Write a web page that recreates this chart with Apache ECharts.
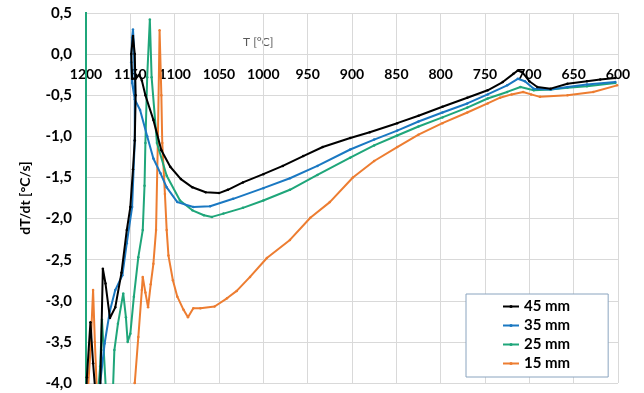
<!DOCTYPE html>
<html>
<head>
<meta charset="utf-8">
<script src="https://cdn.jsdelivr.net/npm/echarts@6/dist/echarts.min.js"></script>
<style>
  html, body { margin: 0; padding: 0; background: #fff; }
  #chart { width: 644px; height: 393px; }
</style>
</head>
<body>
<div id="chart"></div>
<script>
// temperatures (x) and cooling rate dT/dt (y)
var t45 = [1200, 1199, 1195, 1192, 1188, 1184, 1181, 1178, 1173, 1167, 1160, 1154, 1150, 1147, 1145, 1144, 1145, 1147, 1149, 1148, 1144, 1140, 1137, 1133, 1124, 1115, 1105, 1093, 1080, 1065, 1050, 1040, 1023, 1000, 978, 955, 933, 902, 880, 849, 825, 798, 770, 747, 730, 718, 713, 708, 700, 691, 676, 657, 635, 620, 603]
var v45 = [-4.3, -3.93, -3.26, -3.76, -4.3, -4.1, -2.61, -2.79, -3.21, -3.08, -2.66, -2.14, -1.86, -1.4, -1.05, -0.5, 0.0, 0.22, 0.0, -0.3, -0.3, -0.25, -0.32, -0.5, -0.8, -1.17, -1.37, -1.52, -1.62, -1.68, -1.69, -1.65, -1.56, -1.46, -1.36, -1.24, -1.13, -1.02, -0.95, -0.84, -0.75, -0.64, -0.53, -0.44, -0.34, -0.24, -0.2, -0.22, -0.33, -0.4, -0.42, -0.36, -0.33, -0.31, -0.29]

var t35 = [1188, 1184, 1179, 1173, 1167, 1159, 1154, 1148, 1145, 1145, 1146, 1147, 1148, 1149, 1148, 1145, 1139, 1131, 1124, 1116, 1109, 1097, 1079, 1060, 1034, 1000, 970, 939, 902, 875, 849, 825, 798, 770, 747, 725, 713, 705, 695, 676, 657, 635, 603]
var v35 = [-4.3, -4.0, -3.52, -3.12, -2.87, -2.69, -2.3, -1.86, -1.05, -0.4, 0.1, 0.3, 0.2, -0.1, -0.35, -0.55, -0.68, -1.0, -1.27, -1.45, -1.62, -1.8, -1.86, -1.85, -1.76, -1.63, -1.51, -1.36, -1.16, -1.04, -0.93, -0.82, -0.71, -0.6, -0.49, -0.38, -0.3, -0.33, -0.42, -0.43, -0.4, -0.37, -0.34]

var t25 = [1200, 1200, 1188, 1184, 1182, 1180, 1177, 1170, 1168, 1164, 1158, 1155, 1153, 1150, 1146, 1141, 1136, 1134, 1133, 1131, 1128, 1126, 1120, 1109, 1094, 1080, 1067, 1058, 1045, 1023, 1000, 970, 939, 902, 875, 849, 825, 798, 770, 747, 725, 710, 695, 676, 657, 635, 603]
var v25 = [0.6, -4.3, -4.3, -3.8, -3.23, -3.6, -4.2, -4.2, -3.6, -3.28, -2.91, -3.2, -3.5, -3.4, -2.95, -2.47, -2.14, -1.6, -1.08, -0.28, 0.42, -0.28, -1.08, -1.48, -1.78, -1.9, -1.96, -1.98, -1.94, -1.87, -1.78, -1.65, -1.47, -1.26, -1.11, -0.99, -0.88, -0.77, -0.65, -0.54, -0.46, -0.4, -0.44, -0.43, -0.41, -0.39, -0.35]

var t15 = [1199, 1195, 1192, 1190, 1187, 1150, 1145, 1141, 1137, 1136, 1133, 1130, 1127, 1124, 1121, 1119, 1117, 1115, 1114, 1111, 1109, 1107, 1102, 1097, 1090, 1085, 1079, 1071, 1055, 1041, 1030, 1015, 996, 970, 947, 925, 899, 875, 849, 825, 798, 770, 747, 733, 720, 707, 698, 688, 657, 628, 601]
var v15 = [-4.3, -3.6, -2.87, -3.5, -4.3, -4.3, -4.0, -3.44, -2.87, -2.71, -2.9, -3.08, -2.8, -2.55, -2.14, -1.08, 0.29, -0.5, -1.08, -1.7, -2.14, -2.45, -2.75, -2.95, -3.11, -3.2, -3.09, -3.09, -3.07, -2.97, -2.88, -2.71, -2.48, -2.26, -1.99, -1.8, -1.5, -1.3, -1.13, -0.98, -0.84, -0.71, -0.6, -0.53, -0.49, -0.46, -0.49, -0.52, -0.5, -0.46, -0.38]

var seriesNames = ['45 mm', '35 mm', '25 mm', '15 mm']
var seriesColors = ['#000000', '#1a78c2', '#1fa67a', '#ed7d31']

function zip(t, v) {
  var out = []
  for (var i = 0; i < t.length; i++) out.push([t[i], v[i]])
  return out
}

var allData = [zip(t45, v45), zip(t35, v35), zip(t25, v25), zip(t15, v15)]

var font = 'Lato, "Open Sans", sans-serif'
var chart = echarts.init(document.getElementById('chart'))

var series = []
// draw 15 mm first so the black curve ends up on top
for (var k = allData.length - 1; k >= 0; k--) {
  series.push({
    name: seriesNames[k],
    type: 'line',
    data: allData[k],
    symbol: 'circle',
    symbolSize: 2.5,
    showSymbol: true,
    color: seriesColors[k],
    lineStyle: { width: 2, color: seriesColors[k] },
    itemStyle: { color: seriesColors[k] },
    clip: true,
    z: 10 - k
  })
}

chart.setOption({
  animation: false,
  backgroundColor: '#fff',
  grid: { left: 86, right: 26, top: 13, bottom: 10 },
  graphic: [{
    type: 'text',
    left: 243,
    top: 36,
    style: { text: 'T [°C]', fill: '#595959', font: '12px ' + font }
  }],
  legend: {
    data: seriesNames,
    orient: 'vertical',
    left: 466,
    top: 294,
    padding: [4, 38, 5, 36],
    itemWidth: 16,
    itemHeight: 4,
    itemGap: 2,
    borderColor: '#8aa4bf',
    borderWidth: 1,
    backgroundColor: '#fff',
    textStyle: { color: '#000', fontSize: 15, fontWeight: 'bold', fontFamily: font, lineHeight: 17 }
  },
  xAxis: {
    type: 'value',
    inverse: true,
    min: 600,
    max: 1200,
    interval: 50,
    position: 'bottom',
    // the axis sits on the zero line of the y axis
    offset: -329,
    axisLine: { onZero: false, lineStyle: { color: '#d9d9d9' } },
    axisTick: { show: false },
    axisLabel: {
      color: '#000', fontSize: 14, fontWeight: 'bold', fontFamily: font, margin: 13,
      formatter: function(v) { return String(v) }
    },
    splitLine: { show: true, lineStyle: { color: '#d9d9d9' } }
  },
  yAxis: {
    type: 'value',
    min: -4,
    max: 0.5,
    interval: 0.5,
    name: 'dT/dt [°C/s]',
    nameLocation: 'middle',
    nameGap: 54,
    nameTextStyle: { color: '#000', fontSize: 14, fontWeight: 'bold', fontFamily: font },
    axisLine: { show: false },
    axisTick: { show: false },
    axisLabel: {
      color: '#000', fontSize: 15, fontWeight: 'bold', fontFamily: font, margin: 14,
      formatter: function(v) { return v.toFixed(1).replace('.', ',') }
    },
    splitLine: { show: true, lineStyle: { color: '#d9d9d9' } }
  },
  series: series
})
</script>
</body>
</html>
